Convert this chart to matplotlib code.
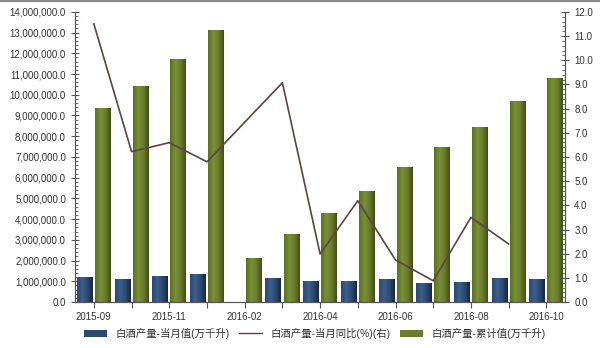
import numpy as np
import pandas as pd
import matplotlib
matplotlib.use("Agg")
import matplotlib.pyplot as plt
from matplotlib.colors import LinearSegmentedColormap
from matplotlib.ticker import FuncFormatter, MultipleLocator, AutoMinorLocator
from matplotlib.lines import Line2D
from matplotlib.patches import Patch

plt.rcParams['font.family'] = ['Liberation Sans', 'Noto Sans CJK SC', 'DejaVu Sans']

# data
months = ["2015-09", "2015-10", "2015-11", "2015-12", "2016-02", "2016-03", "2016-04",
          "2016-05", "2016-06", "2016-07", "2016-08", "2016-09", "2016-10"]
monthly = [1190000, 1130000, 1260000, 1350000, 0, 1160000, 1000000,
           1010000, 1130000, 920000, 950000, 1170000, 1110000]
cumulative = [9380000, 10430000, 11740000, 13120000, 2110000, 3270000, 4300000,
              5380000, 6510000, 7500000, 8450000, 9710000, 10820000]
yoy = [11.5, 6.22, 6.59, 5.80, np.nan, 9.07, 1.99, 4.19, 1.74, 0.88, 3.50, 2.40, np.nan]

label_every = 2
names = ["白酒产量-当月值(万千升)", "白酒产量-当月同比(%)(右)", "白酒产量-累计值(万千升)"]

navy_cmap = LinearSegmentedColormap.from_list("navy", ["#2a4a72", "#3b5f8c", "#2c4a70", "#17283f"])
green_cmap = LinearSegmentedColormap.from_list("green", ["#5d6f24", "#7a8f36", "#6a7d2c", "#414d18"])
line_color = "#5a4644"
tick_color = "#333333"

fig = plt.figure(figsize=(6, 3.48), dpi=100)
ax = fig.add_axes([0.125, 0.132, 0.817, 0.834])
ax2 = ax.twinx()

x = np.arange(len(months))
w = 0.42
grad = np.linspace(0, 1, 64).reshape(1, -1)


def gradient_bars(bars, cmap):
    for b in bars:
        h = b.get_height()
        if h <= 0:
            continue
        x0 = b.get_x()
        im = ax.imshow(grad, extent=[x0, x0 + b.get_width(), 0, h], cmap=cmap,
                       aspect='auto', zorder=2, interpolation='bilinear')
        im.set_clip_path(b)


b1 = ax.bar(x - 0.24, monthly, w, color="#2c4a70", zorder=1)
b2 = ax.bar(x + 0.24, cumulative, w, color="#6a7d2c", zorder=1)
gradient_bars(b1, navy_cmap)
gradient_bars(b2, green_cmap)

s = pd.Series(yoy, index=x).dropna()
ax2.plot(s.index, s.values, color=line_color, lw=1.2, zorder=3)

ax.set_xlim(-0.5, len(months) - 0.5)
ax.set_ylim(0, 14000000)
ax2.set_ylim(0, 12)

ax.yaxis.set_major_locator(MultipleLocator(1000000))
ax.yaxis.set_minor_locator(AutoMinorLocator(5))
ax.yaxis.set_major_formatter(FuncFormatter(lambda v, p: f"{v:,.1f}"))
ax2.yaxis.set_major_locator(MultipleLocator(1))
ax2.yaxis.set_minor_locator(AutoMinorLocator(5))
ax2.yaxis.set_major_formatter(FuncFormatter(lambda v, p: f"{v:.1f}"))

ax.set_xticks(x)
ax.set_xticklabels([m if i % label_every == 0 else "" for i, m in enumerate(months)])

for a in (ax, ax2):
    a.spines['top'].set_visible(False)
    for sp in a.spines.values():
        sp.set_color("#555555")
        sp.set_linewidth(0.8)
    a.tick_params(axis='y', which='major', direction='inout', length=6, width=0.8,
                  colors="#555555", labelcolor=tick_color, labelsize=7)
    a.tick_params(axis='y', which='minor', direction='in', length=2.5, width=0.6, colors="#555555")
ax.tick_params(axis='x', direction='out', length=4, width=0.8, colors="#555555",
               labelcolor=tick_color, labelsize=7, pad=3)

handles = [Patch(facecolor="#2c4a70", edgecolor="none"),
           Line2D([0], [0], color=line_color, lw=1.0),
           Patch(facecolor="#6a7d2c", edgecolor="none")]
fig.legend(handles, names, loc='center', bbox_to_anchor=(0.525, 0.042), ncol=3,
           frameon=False, fontsize=7.5, handlelength=2.2, handleheight=0.6,
           columnspacing=0.9, handletextpad=0.8, labelcolor=tick_color,
           borderpad=0.1)

# gray border line at the top of the picture
fig.add_artist(Line2D([0, 1], [0.997, 0.997], transform=fig.transFigure, color="#888888", lw=1.5))

fig.savefig("out.png", dpi=100, facecolor="white")
